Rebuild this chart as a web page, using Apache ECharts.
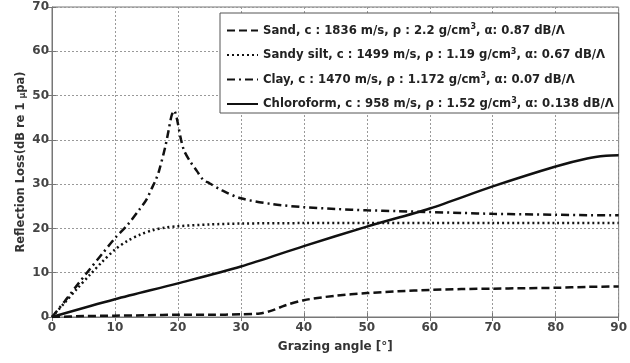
<!DOCTYPE html>
<html lang="en">
<head>
    <meta charset="UTF-8">
    <title>Reflection Loss vs Grazing angle</title>
    <script src="https://cdn.jsdelivr.net/npm/echarts@6/dist/echarts.min.js"></script>
    <style>
        body, html {
            margin: 0;
            background: #fff;
        }

        #chart {
            width: 630px;
            height: 363px;
        }
    </style>
</head>
<body>
<div id="chart"></div>
<script>
    // values (grazing angle in degrees, loss in dB)
    const sandX = [0, 5, 10, 15, 20, 25, 30, 33, 35, 37, 40, 45, 50, 55, 60, 65, 70, 75, 80, 85, 90];
    const sandY = [0, 0.2, 0.3, 0.4, 0.5, 0.5, 0.6, 0.8, 1.5, 2.6, 3.8, 4.8, 5.4, 5.8, 6.1, 6.3, 6.4, 6.5, 6.6, 6.8, 6.9];

    const siltX = [0, 2, 4, 6, 8, 10, 12, 14, 16, 18, 20, 25, 30, 40, 50, 60, 70, 80, 90];
    const siltY = [0, 3.2, 6.4, 9.5, 12.5, 15.2, 17.2, 18.6, 19.6, 20.2, 20.5, 20.9, 21.1, 21.2, 21.2, 21.2, 21.2, 21.2, 21.2];

    const clayX = [0, 2, 4, 6, 8, 10, 12, 14, 15, 16, 16.5, 17, 18, 18.5, 19, 19.4, 19.8, 20.5, 21, 22, 23, 24, 25, 27, 30, 35, 40, 45, 50, 55, 60, 65, 70, 75, 80, 85, 90];
    const clayY = [0, 3.5, 7.2, 10.8, 14.3, 17.8, 20.8, 24.5, 26.5, 29.5, 31, 33, 38.5, 42, 45.5, 46.6, 45, 40, 37.5, 35, 33, 31, 30.2, 28.6, 26.8, 25.5, 24.8, 24.4, 24.1, 23.9, 23.7, 23.5, 23.3, 23.2, 23.1, 23, 23];

    const chloroX = [0, 10, 20, 30, 40, 50, 60, 70, 80, 85, 88, 90];
    const chloroY = [0, 4, 7.6, 11.4, 16, 20.4, 24.5, 29.5, 34, 35.8, 36.4, 36.5];

    const seriesNames = [
        'Sand, c : 1836 m/s, ρ : 2.2 g/cm{sup|3}, α: 0.87 dB/Λ',
        'Sandy silt, c : 1499 m/s, ρ : 1.19 g/cm{sup|3}, α: 0.67 dB/Λ',
        'Clay, c : 1470 m/s, ρ : 1.172 g/cm{sup|3}, α: 0.07 dB/Λ',
        'Chloroform, c : 958 m/s, ρ : 1.52 g/cm{sup|3}, α: 0.138 dB/Λ'
    ];
    const lineTypes = [[8, 4], [2, 3], [8, 4, 2, 4], 'solid'];

    const xTicks = [0, 10, 20, 30, 40, 50, 60, 70, 80, 90];
    const yTicks = [0, 10, 20, 30, 40, 50, 60, 70];

    function pairs(xs, ys) {
        return xs.map((x, i) => [x, ys[i]]);
    }

    const allData = [
        pairs(sandX, sandY),
        pairs(siltX, siltY),
        pairs(clayX, clayY),
        pairs(chloroX, chloroY)
    ];

    const chart = echarts.init(document.getElementById('chart'));
    const font = 'DejaVu Sans, sans-serif';

    const option = {
        animation: false,
        backgroundColor: '#fff',
        grid: {
            left: 52, right: 8, top: 7, bottom: 46,
            show: true, borderColor: '#777', borderWidth: 1
        },
        legend: {
            orient: 'vertical',
            left: 220, top: 13,
            itemWidth: 31, itemHeight: 14, itemGap: 11,
            padding: [10, 5, 3, 6],
            backgroundColor: '#fff',
            borderColor: '#555', borderWidth: 1,
            itemStyle: {color: 'transparent', borderWidth: 0, opacity: 0},
            textStyle: {
                fontFamily: font, fontWeight: 'bold', fontSize: 11.7, color: '#222',
                rich: {
                    sup: {fontFamily: font, fontWeight: 'bold', fontSize: 8, color: '#222', padding: [0, 0, 7, 0]}
                }
            },
            data: seriesNames
        },
        xAxis: [{
            type: 'value', min: 0, max: 90, interval: 10,
            name: 'Grazing angle [°]', nameLocation: 'middle', nameGap: 24,
            nameTextStyle: {fontFamily: font, fontWeight: 'bold', fontSize: 12, color: '#333'},
            axisLine: {lineStyle: {color: '#777'}},
            axisTick: {inside: true, length: 4, lineStyle: {color: '#777'}},
            axisLabel: {fontFamily: font, fontWeight: 'bold', fontSize: 12, color: '#444', margin: 5,
                formatter: v => xTicks.includes(v) ? String(v) : ''},
            splitLine: {lineStyle: {type: [2, 2], color: '#999'}}
        }, {
            type: 'value', min: 0, max: 90, interval: 10, position: 'top',
            axisLine: {show: false},
            axisTick: {inside: true, length: 4, lineStyle: {color: '#777'}},
            axisLabel: {show: false}, splitLine: {show: false}
        }],
        yAxis: [{
            type: 'value', min: 0, max: 70, interval: 10,
            name: 'Reflection Loss(dB re 1 {sub|μ}pa)', nameLocation: 'middle', nameGap: 25,
            nameMoveOverlap: false,
            nameTextStyle: {
                fontFamily: font, fontWeight: 'bold', fontSize: 11.5, color: '#333',
                rich: {sub: {fontFamily: font, fontWeight: 'bold', fontSize: 8, color: '#333', padding: [4, 0, 0, 0]}}
            },
            axisLine: {show: true, lineStyle: {color: '#777'}},
            axisTick: {show: true, inside: true, length: 4, lineStyle: {color: '#777'}},
            axisLabel: {fontFamily: font, fontWeight: 'bold', fontSize: 12, color: '#444', margin: 3,
                formatter: v => yTicks.includes(v) ? String(v) : ''},
            splitLine: {lineStyle: {type: [2, 2], color: '#999'}}
        }, {
            type: 'value', min: 0, max: 70, interval: 10, position: 'right',
            axisLine: {show: false},
            axisTick: {show: true, inside: true, length: 4, lineStyle: {color: '#777'}},
            axisLabel: {show: false}, splitLine: {show: false}
        }],
        series: seriesNames.map((name, i) => ({
            name: name,
            type: 'line',
            data: allData[i],
            symbol: 'none',
            smooth: 0.3,
            lineStyle: {color: '#111', width: 2.5, type: lineTypes[i]},
            itemStyle: {color: '#111'},
            z: 3
        }))
    };

    chart.setOption(option);
</script>
</body>
</html>
